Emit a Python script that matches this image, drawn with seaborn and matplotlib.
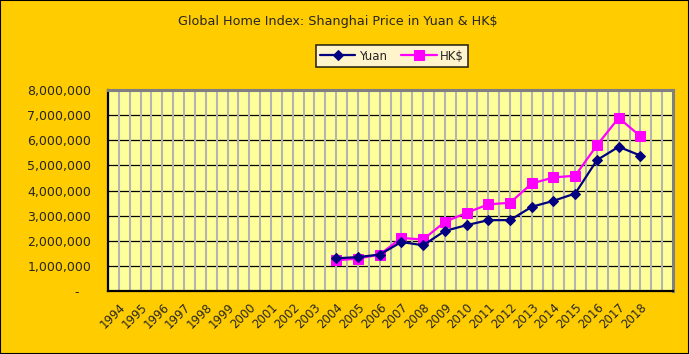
import pandas as pd
import matplotlib
matplotlib.use("Agg")
import matplotlib.pyplot as plt
import matplotlib.ticker as mticker
from matplotlib.patches import Rectangle
import seaborn as sns

years = [str(y) for y in range(1994, 2019)]
data_years = [str(y) for y in range(2004, 2019)]
yuan = [1.30e6, 1.35e6, 1.45e6, 1.95e6, 1.82e6, 2.39e6, 2.62e6, 2.82e6,
        2.82e6, 3.35e6, 3.59e6, 3.88e6, 5.21e6, 5.74e6, 5.39e6]
hkd = [1.22e6, 1.29e6, 1.45e6, 2.11e6, 2.05e6, 2.75e6, 3.11e6, 3.45e6,
       3.51e6, 4.28e6, 4.52e6, 4.59e6, 5.80e6, 6.89e6, 6.16e6]

df = pd.DataFrame({
    "pos": [years.index(y) for y in data_years],
    "Yuan": yuan,
    "HK$": hkd,
})

sns.set_style("white")
plt.rcParams["font.family"] = ["DejaVu Sans"]

fig = plt.figure(figsize=(6.89, 3.54), dpi=100, facecolor="#FFCC00")
ax = fig.add_axes([108 / 689, 1 - 291 / 354, 565 / 689, 201 / 354])
ax.set_facecolor("#FFFF99")

sns.lineplot(data=df, x="pos", y="Yuan", ax=ax, color="#000080", marker="D",
             markersize=5.5, markeredgecolor="#000080", linewidth=1.6,
             label="Yuan", legend=False, zorder=4)
sns.lineplot(data=df, x="pos", y="HK$", ax=ax, color="#FF00FF", marker="s",
             markersize=6.5, markeredgecolor="#FF00FF", linewidth=1.6,
             label="HK$", legend=False, zorder=3)

ax.set_xlim(-0.5, len(years) + 0.5)
ax.set_ylim(0, 8e6)

# gridlines: gray verticals every half category, black horizontals
for i in range(1, 2 * (len(years) + 1)):
    ax.axvline(-0.5 + i * 0.5, color="#B4B4B4", linewidth=1.5, zorder=1)
ax.yaxis.set_major_locator(mticker.MultipleLocator(1e6))
ax.grid(axis="y", color="black", linewidth=0.9, zorder=2)
ax.set_axisbelow(True)

ax.yaxis.set_major_formatter(mticker.FuncFormatter(
    lambda v, p: "-   " if v == 0 else f"{int(v):,}"))
ax.set_xticks(range(len(years)))
ax.set_xticklabels(years, rotation=45, ha="right", rotation_mode="anchor")
ax.set_xticks([i - 0.5 for i in range(len(years) + 2)], minor=True)
ax.tick_params(axis="x", which="major", length=0, pad=7, labelsize=8.5)
ax.tick_params(axis="x", which="minor", direction="in", length=3,
               width=1.2, color="black")
ax.tick_params(axis="y", length=0, pad=12, labelsize=9)
ax.set_xlabel("")
ax.set_ylabel("")

for side in ["left", "bottom"]:
    ax.spines[side].set_color("black")
    ax.spines[side].set_linewidth(1.6)
for side in ["top", "right"]:
    ax.spines[side].set_color("#808080")
    ax.spines[side].set_linewidth(2.2)

fig.text(338 / 689, 1 - 22 / 354, "Global Home Index: Shanghai Price in Yuan & HK$",
         ha="center", va="center", fontsize=9.2)

handles, labels = ax.get_legend_handles_labels()
leg = fig.legend(handles, labels, loc="center", bbox_to_anchor=(392 / 689, 1 - 56 / 354),
                 ncol=2, frameon=True, fancybox=False, fontsize=8.5,
                 handlelength=3, columnspacing=1.2, handletextpad=0.3,
                 borderpad=0.35, edgecolor="black", facecolor="white")
leg.get_frame().set_linewidth(1.2)

fig.patches.append(Rectangle((0, 0), 1, 1, transform=fig.transFigure,
                             fill=False, edgecolor="black", linewidth=1.5))

fig.savefig("out.png", dpi=100, facecolor=fig.get_facecolor())
